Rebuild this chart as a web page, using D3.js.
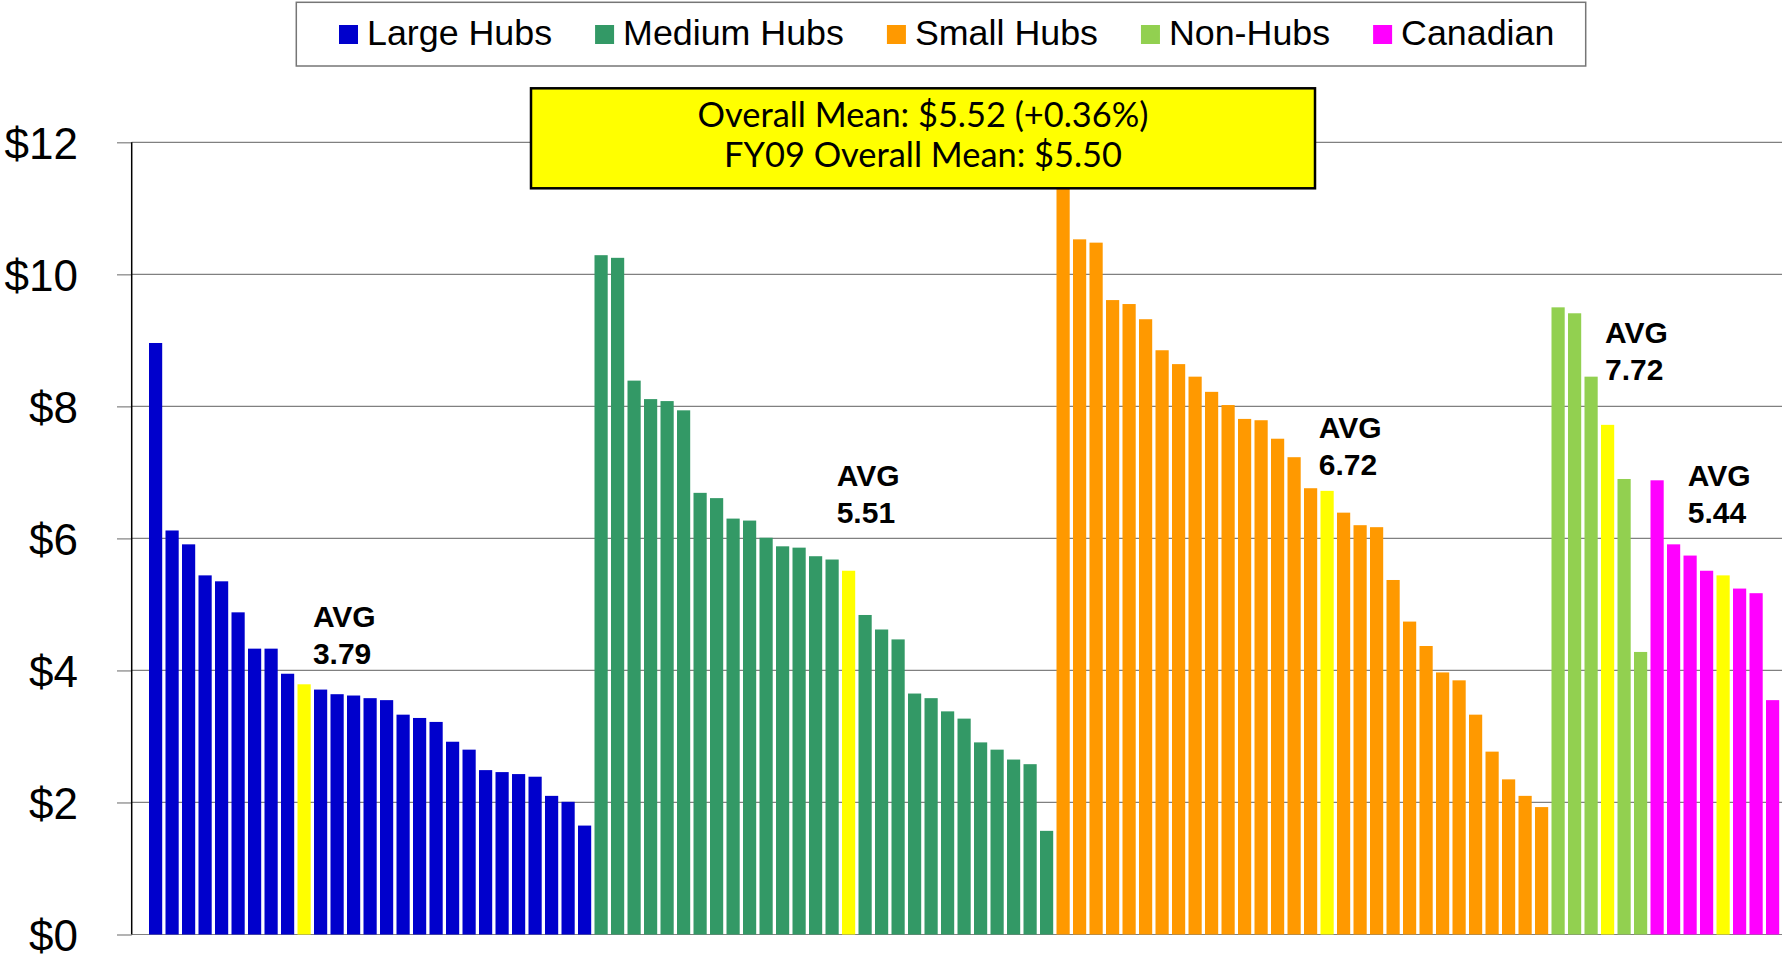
<!DOCTYPE html>
<html>
<head>
<meta charset="utf-8">
<script src="https://cdn.jsdelivr.net/npm/d3@7"></script>
<style>
  body { margin: 0; background: #fff; }
  text { font-family: "Liberation Sans", Arial, sans-serif; }
</style>
</head>
<body>
<div id="chart-area"></div>
<script>
// values, sorted high to low (group average bar is added below)
let groups = ['Large Hubs', 'Medium Hubs', 'Small Hubs', 'Non-Hubs', 'Canadian'];
let largeHubs = [8.96, 6.12, 5.91, 5.44, 5.35, 4.88, 4.33, 4.33, 3.95, 3.71, 3.64, 3.62, 3.58, 3.55,
  3.33, 3.28, 3.22, 2.92, 2.80, 2.49, 2.46, 2.43, 2.39, 2.10, 2.01, 1.65];
let mediumHubs = [10.29, 10.25, 8.39, 8.11, 8.08, 7.94, 6.69, 6.61, 6.30, 6.27, 6.01, 5.88, 5.86, 5.73,
  5.68, 4.84, 4.62, 4.47, 3.65, 3.58, 3.38, 3.27, 2.91, 2.80, 2.65, 2.58, 1.57];
let smallHubs = [12.0, 10.53, 10.48, 9.61, 9.55, 9.32, 8.85, 8.64, 8.45, 8.22, 8.02, 7.81, 7.79, 7.51,
  7.23, 6.76, 6.39, 6.20, 6.17, 5.37, 4.74, 4.37, 3.97, 3.85, 3.33, 2.77, 2.35, 2.10, 1.93];
let nonHubs = [9.50, 9.41, 8.45, 6.90, 4.28];
let canadian = [6.88, 5.91, 5.74, 5.51, 5.24, 5.17, 3.55];
let groupAvgs = [3.79, 5.51, 6.72, 7.72, 5.44];
let yTicks = [0, 2, 4, 6, 8, 10, 12];
let meanLines = ['Overall Mean: $5.52 (+0.36%)', 'FY09 Overall Mean: $5.50'];

let colors = ['#0000cc', '#339966', '#ff9900', '#92d050', '#ff00ff'];
let avgColor = '#ffff00';
let gridColor = '#808080';

let width = 1787;
let height = 963;
let plot = { left: 131.7, right: 1782, top: 142.3, bottom: 934.5 };

let svg = d3.select('#chart-area').append('svg')
  .attr('width', width)
  .attr('height', height);

// flatten groups into one bar list, average bar slotted in by value
let bars = [];
[largeHubs, mediumHubs, smallHubs, nonHubs, canadian].forEach((vals, gi) => {
  let list = vals.map(v => ({ group: gi, value: v, avg: false }));
  list.push({ group: gi, value: groupAvgs[gi], avg: true });
  list.sort((a, b) => b.value - a.value);
  bars = bars.concat(list);
});
bars.forEach((d, i) => { d.idx = i; });

let x = d3.scaleBand()
  .domain(d3.range(bars.length))
  .range([147.35, 1780.85])
  .paddingInner(0.2)
  .paddingOuter(0.1);

let y = d3.scaleLinear()
  .domain([0, 12])
  .range([plot.bottom, plot.top]);

// gridlines
svg.append('g').selectAll('line')
  .data(yTicks)
  .enter()
  .append('line')
  .attr('x1', plot.left)
  .attr('x2', plot.right)
  .attr('y1', d => y(d))
  .attr('y2', d => y(d))
  .attr('stroke', gridColor)
  .attr('stroke-width', 1.2);

// y axis labels + short outside ticks
let leftAxis = d3.axisLeft(y)
  .tickValues(yTicks)
  .tickSize(14.7)
  .tickPadding(39)
  .tickFormat(d => '$' + d);
let yAxis = svg.append('g')
  .attr('transform', `translate(${plot.left}, 0)`)
  .call(leftAxis);
yAxis.select('.domain').remove();
yAxis.selectAll('line').attr('stroke', gridColor).attr('stroke-width', 1.2);
yAxis.selectAll('text')
  .attr('fill', '#000')
  .attr('dy', '0.36em')
  .style('font-size', '44px')
  .style('font-family', '"Liberation Sans", Arial, sans-serif');

// bars
svg.append('g').selectAll('rect')
  .data(bars)
  .enter()
  .append('rect')
  .attr('x', d => x(d.idx))
  .attr('y', d => y(d.value))
  .attr('width', x.bandwidth())
  .attr('height', d => y(0) - y(d.value))
  .attr('fill', d => d.avg ? avgColor : colors[d.group]);

// vertical axis line
svg.append('line')
  .attr('x1', plot.left).attr('x2', plot.left)
  .attr('y1', plot.top).attr('y2', plot.bottom)
  .attr('stroke', '#000')
  .attr('stroke-width', 1.5);

// AVG labels, placed next to each yellow bar
let avgLabelPos = [
  { dx: 15.4, y: 627 },
  { dx: -5.3, y: 486 },
  { dx: -1.7, y: 438 },
  { dx: 4, y: 343 },
  { dx: -28.7, y: 486 }
];
let avgBars = bars.filter(d => d.avg);
let avgLabels = svg.append('g').selectAll('text')
  .data(avgBars)
  .enter()
  .append('text')
  .attr('x', d => x(d.idx) + avgLabelPos[d.group].dx)
  .attr('y', d => avgLabelPos[d.group].y)
  .style('font-size', '30px')
  .style('font-weight', 'bold')
  .attr('fill', '#000');
avgLabels.append('tspan').text('AVG');
avgLabels.append('tspan')
  .attr('x', d => x(d.idx) + avgLabelPos[d.group].dx)
  .attr('dy', 37)
  .text(d => d.value.toFixed(2));

// overall mean box
let box = { x: 531, y: 88.3, w: 784, h: 100 };
svg.append('rect')
  .attr('x', box.x).attr('y', box.y)
  .attr('width', box.w).attr('height', box.h)
  .attr('fill', '#ffff00')
  .attr('stroke', '#000')
  .attr('stroke-width', 2.5);

let meanText = svg.append('g').selectAll('text')
  .data(meanLines)
  .enter()
  .append('text')
  .attr('x', box.x + box.w / 2)
  .attr('y', (d, i) => 126.7 + i * 40.6)
  .attr('text-anchor', 'middle')
  .style('font-family', 'Lato, "Open Sans", sans-serif')
  .style('font-size', '31px')
  .attr('fill', '#000')
  .text(d => d);
// fit first line to ~451px like the original
let w0 = meanText.node().getComputedTextLength();
meanText.style('font-size', (31 * 451 / w0) + 'px');

// legend
let legend = svg.append('g');
legend.append('rect')
  .attr('x', 296.3).attr('y', 2.3)
  .attr('width', 1289.4).attr('height', 63.7)
  .attr('fill', '#fff')
  .attr('stroke', '#767676')
  .attr('stroke-width', 1.5);

let lx = 339;
groups.forEach((name, i) => {
  legend.append('rect')
    .attr('x', lx).attr('y', 25)
    .attr('width', 19).attr('height', 19)
    .attr('fill', colors[i]);
  let t = legend.append('text')
    .attr('x', lx + 28)
    .attr('y', 45)
    .style('font-size', '35.8px')
    .attr('fill', '#000')
    .text(name);
  lx = lx + 28 + t.node().getComputedTextLength() + 43;
});
</script>
</body>
</html>
